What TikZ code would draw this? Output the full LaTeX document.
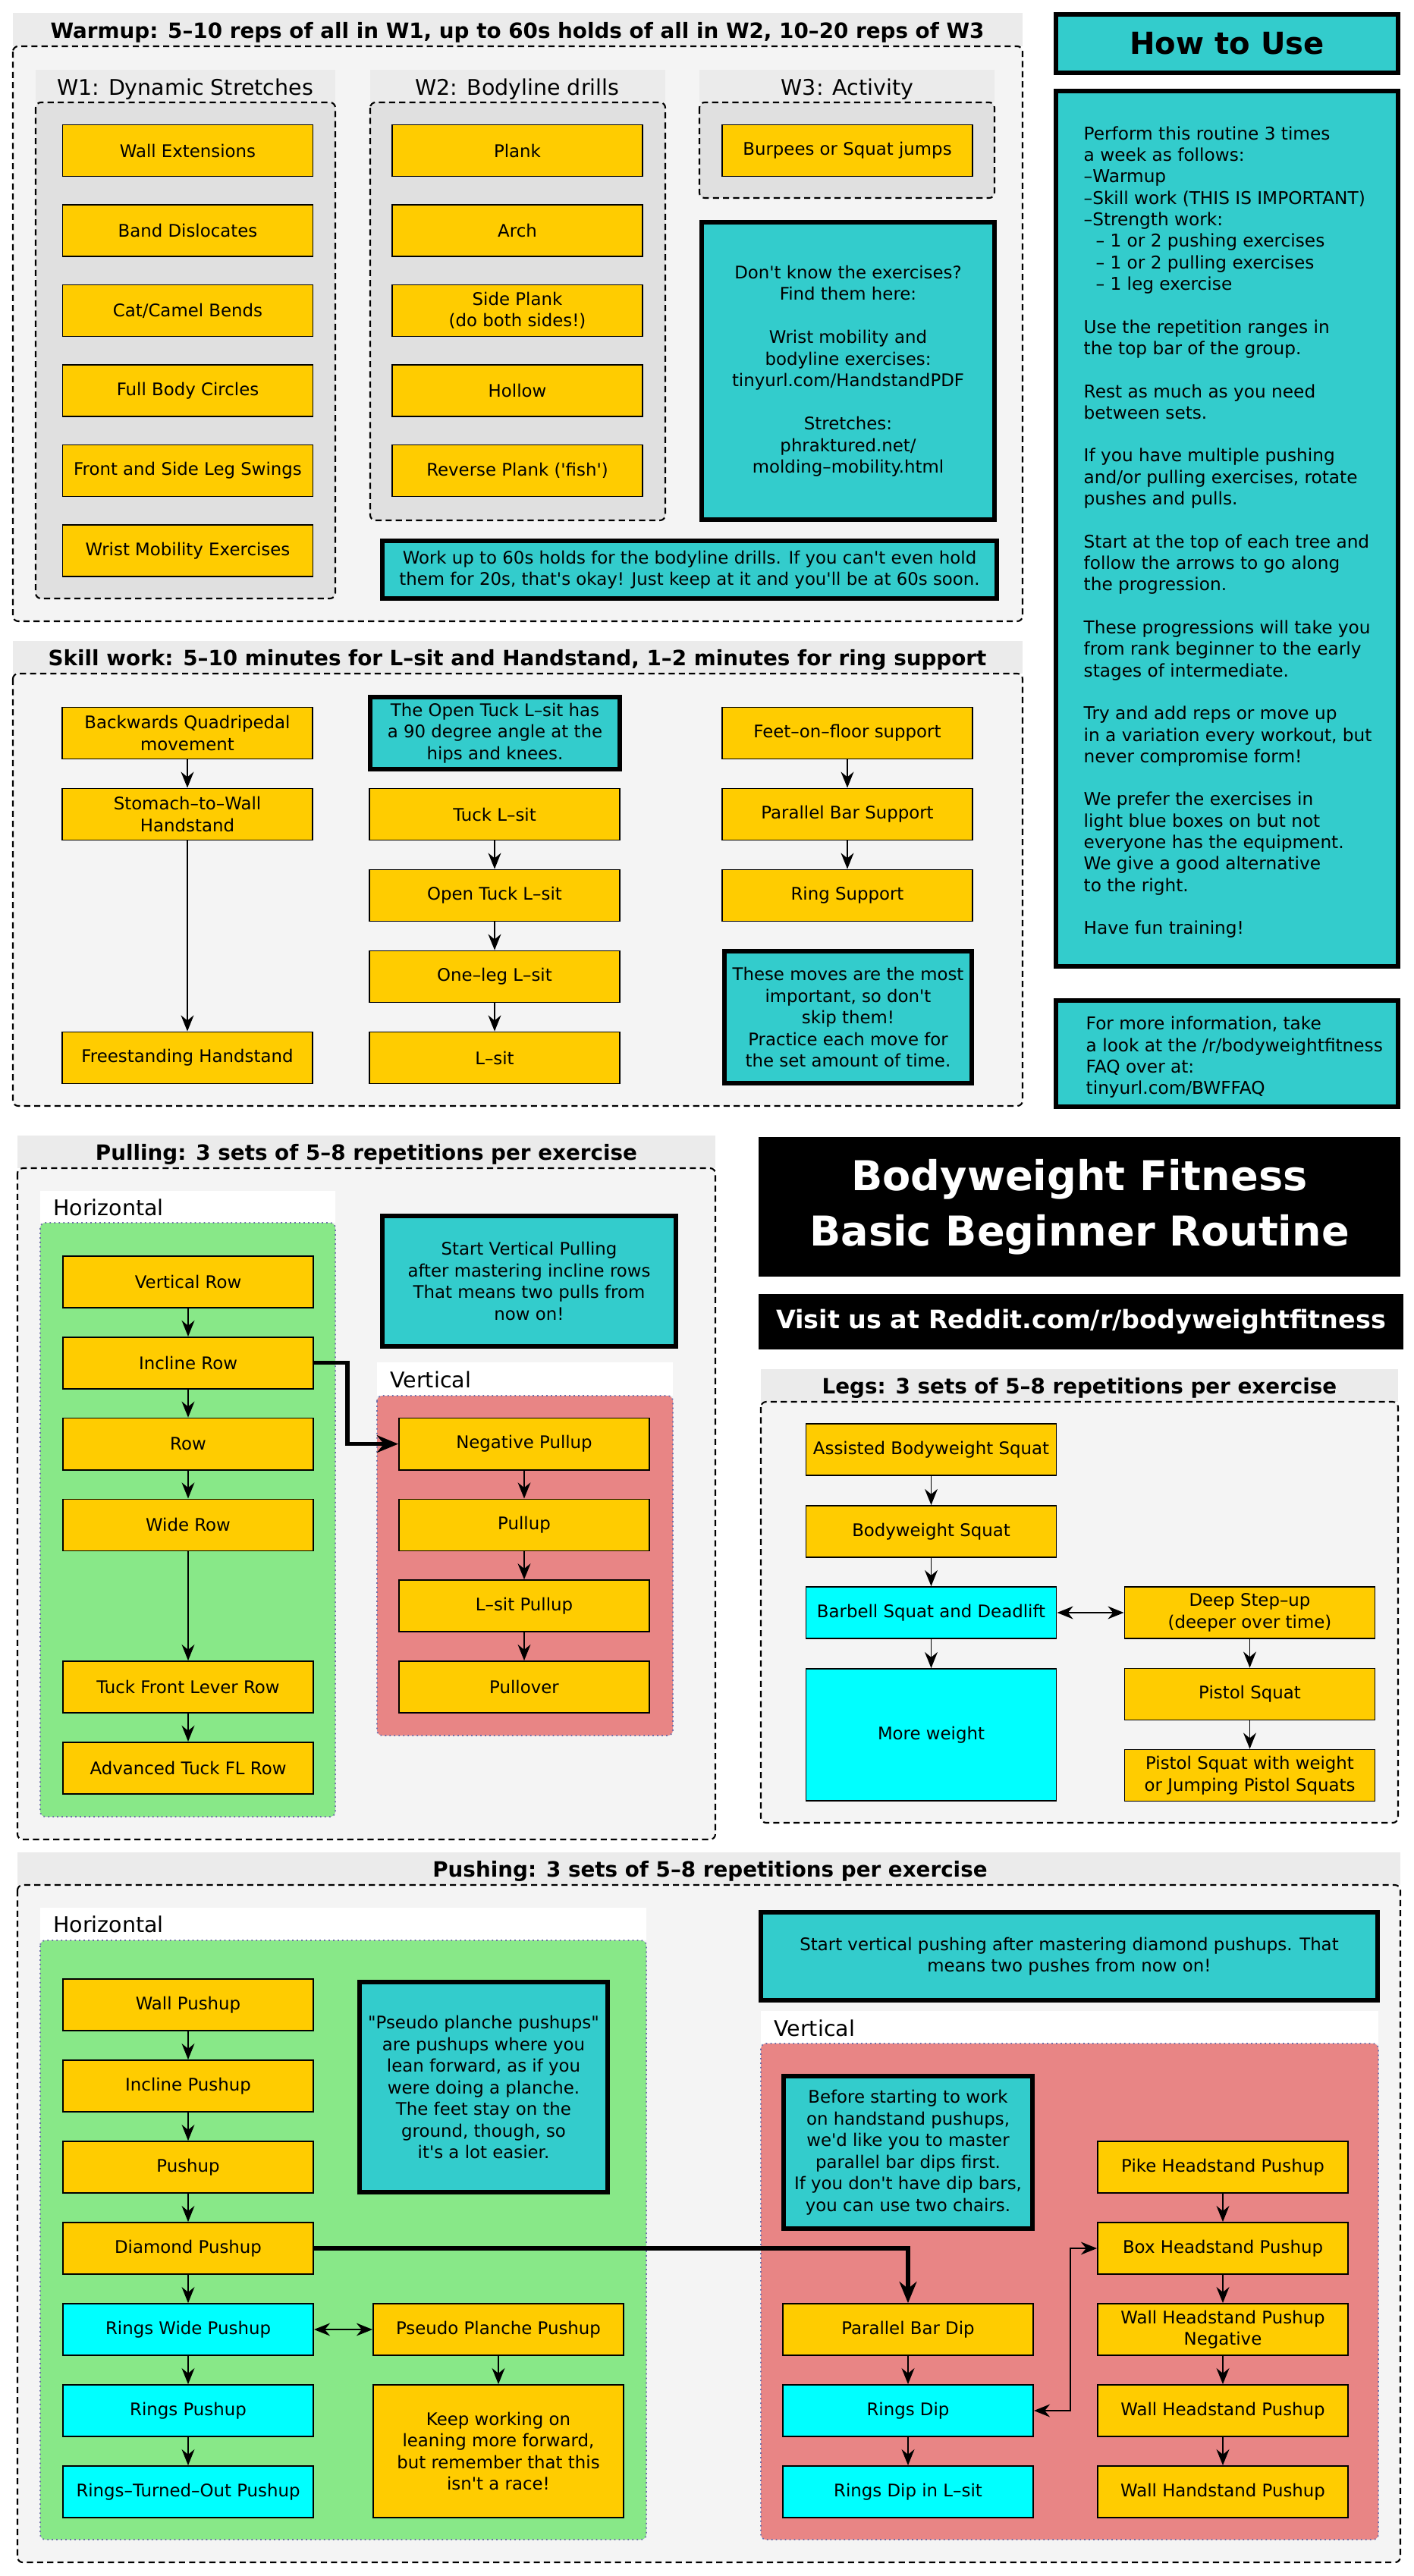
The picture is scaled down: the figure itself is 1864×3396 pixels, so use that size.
\documentclass[tikz,border=0pt]{standalone}
\usepackage{fontspec}
\newfontfamily\bwffont{DejaVu Sans}
\usetikzlibrary{arrows.meta}

\definecolor{exyellow}{HTML}{FFCC00}
\definecolor{noteteal}{HTML}{33CCCC}
\definecolor{ringcyan}{HTML}{00FFFF}
\definecolor{horizgreen}{HTML}{88E888}
\definecolor{vertred}{HTML}{E88585}
\definecolor{groupbg}{HTML}{F4F4F4}
\definecolor{barbg}{HTML}{EBEBEB}
\definecolor{subbg}{HTML}{E0E0E0}
\definecolor{dotblue}{HTML}{6E6EAA}

\tikzset{
  exbox/.style={draw, line width=0.5pt, fill=exyellow, minimum width=3.3cm, minimum height=0.68cm,
    inner sep=0pt, align=center, font=\bwffont\fontsize{6.5}{8.1}\selectfont},
  ringsbox/.style={exbox, fill=ringcyan},
  note/.style={draw, line width=1.7pt, fill=noteteal, inner sep=0pt, align=center,
    font=\bwffont\fontsize{6.5}{8.1}\selectfont},
  howtext/.style={inner sep=0pt, align=left, font=\bwffont\fontsize{6.6}{8.05}\selectfont},
  grouplabel/.style={font=\bwffont\bfseries\fontsize{7.9}{9.5}\selectfont},
  sublabel/.style={font=\bwffont\fontsize{8.1}{9.7}\selectfont},
  groupbox/.style={draw, fill=groupbg, dash pattern=on 2.3pt off 1.5pt, line width=0.6pt, rounded corners=2pt},
  subgroup/.style={groupbox, fill=subbg},
  lane/.style={draw=dotblue, dash pattern=on 0.5pt off 1.2pt, line width=0.5pt, rounded corners=2pt},
  flow/.style={arrows={-Stealth[length=6pt,width=4.8pt]}, line width=0.5pt},
  twoway/.style={arrows={Stealth[length=6pt,width=4.8pt]-Stealth[length=6pt,width=4.8pt]}, line width=0.5pt},
  jump/.style={arrows={-Stealth[length=8pt,width=6.5pt]}, line width=1.5pt},
}

\begin{document}
\begin{tikzpicture}[x=0.01cm,y=-0.01cm]
\useasboundingbox (0,0) rectangle (1864,3396);

\fill[barbg] (17,17) rectangle (1348,61);
\node[grouplabel, anchor=base] (warmuplbl) at (682,50) {Warmup: 5–10 reps of all in W1, up to 60s holds of all in W2, 10–20 reps of W3};
\draw[groupbox] (17,61) rectangle (1348,819);
\fill[barbg] (47,92) rectangle (442,135);
\node[sublabel, anchor=base] (w1lbl) at (244,125) {W1: Dynamic Stretches};
\draw[subgroup] (47,135) rectangle (442,789);
\fill[barbg] (488,92) rectangle (877,135);
\node[sublabel, anchor=base] (w2lbl) at (682,125) {W2: Bodyline drills};
\draw[subgroup] (488,135) rectangle (877,686);
\fill[barbg] (922,92) rectangle (1311,135);
\node[sublabel, anchor=base] (w3lbl) at (1117,125) {W3: Activity};
\draw[subgroup] (922,135) rectangle (1311,261);

\node[exbox] (wallext) at (247.5,198.5) {Wall Extensions};
\node[exbox] (banddis) at (247.5,304) {Band Dislocates};
\node[exbox] (catcamel) at (247.5,409.5) {Cat/Camel Bends};
\node[exbox] (bodycirc) at (247.5,515) {Full Body Circles};
\node[exbox] (legswing) at (247.5,620.5) {Front and Side Leg Swings};
\node[exbox] (wristmob) at (247.5,726) {Wrist Mobility Exercises};
\node[exbox] (plank) at (682,198.5) {Plank};
\node[exbox] (arch) at (682,304) {Arch};
\node[exbox] (sideplank) at (682,409.5) {Side Plank\\(do both sides!)};
\node[exbox] (hollow) at (682,515) {Hollow};
\node[exbox] (revplank) at (682,620.5) {Reverse Plank ('fish')};
\node[exbox] (burpees) at (1117,198.5) {Burpees or Squat jumps};
\node[note, minimum width=3.86cm, minimum height=3.92cm] (findthem) at (1118,489) {Don't know the exercises?\\Find them here:\\[8.1pt]Wrist mobility and\\bodyline exercises:\\tinyurl.com/HandstandPDF\\[8.1pt]Stretches:\\phraktured.net/\\molding–mobility.html};
\node[note, minimum width=8.1cm, minimum height=0.76cm] (holdnote) at (909,751) {Work up to 60s holds for the bodyline drills. If you can't even hold\\them for 20s, that's okay! Just keep at it and you'll be at 60s soon.};

\fill[barbg] (17,845) rectangle (1348,888);
\node[grouplabel, anchor=base] (skilllbl) at (682,877) {Skill work: 5–10 minutes for L–sit and Handstand, 1–2 minutes for ring support};
\draw[groupbox] (17,888) rectangle (1348,1458);
\node[exbox] (backquad) at (247,966.5) {Backwards Quadripedal\\movement};
\node[exbox] (stomachwall) at (247,1073.5) {Stomach–to–Wall\\Handstand};
\node[exbox] (freehs) at (247,1394.5) {Freestanding Handstand};
\node[note, minimum width=3.29cm, minimum height=0.95cm] (opentucknote) at (652.5,966.5) {The Open Tuck L–sit has\\a 90 degree angle at the\\hips and knees.};
\node[exbox] (tucklsit) at (652,1073.5) {Tuck L–sit};
\node[exbox] (opentuck) at (652,1180.5) {Open Tuck L–sit};
\node[exbox] (oneleg) at (652,1287.5) {One–leg L–sit};
\node[exbox] (lsit) at (652,1394.5) {L–sit};
\node[exbox] (feetfloor) at (1117,966.5) {Feet–on–floor support};
\node[exbox] (pbsupport) at (1117,1073.5) {Parallel Bar Support};
\node[exbox] (ringsupport) at (1117,1180.5) {Ring Support};
\node[note, minimum width=3.26cm, minimum height=1.74cm] (skipnote) at (1118,1341) {These moves are the most\\important, so don't\\skip them!\\Practice each move for\\the set amount of time.};
\draw[flow] (backquad) -- (stomachwall);
\draw[flow] (stomachwall) -- (freehs);
\draw[flow] (tucklsit) -- (opentuck);
\draw[flow] (opentuck) -- (oneleg);
\draw[flow] (oneleg) -- (lsit);
\draw[flow] (feetfloor) -- (pbsupport);
\draw[flow] (pbsupport) -- (ringsupport);

\fill[barbg] (23,1497) rectangle (943,1540);
\node[grouplabel, anchor=base] (pulllbl) at (483,1529) {Pulling: 3 sets of 5–8 repetitions per exercise};
\draw[groupbox] (23,1540) rectangle (943,2425);
\fill[white] (53,1570) rectangle (442,1612);
\node[sublabel, anchor=base west] (pullhlbl) at (58,1602) {Horizontal};
\filldraw[lane, fill=horizgreen] (53,1612) rectangle (442,2395);
\node[exbox] (vertrow) at (248,1690) {Vertical Row};
\node[exbox] (inclrow) at (248,1796.8) {Incline Row};
\node[exbox] (row) at (248,1903.6) {Row};
\node[exbox] (widerow) at (248,2010.4) {Wide Row};
\node[exbox] (tuckflrow) at (248,2224) {Tuck Front Lever Row};
\node[exbox] (advtuckfl) at (248,2330.8) {Advanced Tuck FL Row};
\node[note, minimum width=3.87cm, minimum height=1.72cm] (vpullnote) at (697.5,1689) {Start Vertical Pulling\\after mastering incline rows\\That means two pulls from\\now on!};
\fill[white] (497,1796) rectangle (887,1840);
\node[sublabel, anchor=base west] (pullvlbl) at (502,1829) {Vertical};
\filldraw[lane, fill=vertred] (497,1840) rectangle (887,2288);
\node[exbox] (negpull) at (691,1903.6) {Negative Pullup};
\node[exbox] (pullup) at (691,2010.4) {Pullup};
\node[exbox] (lsitpull) at (691,2117.2) {L–sit Pullup};
\node[exbox] (pullover) at (691,2224) {Pullover};
\draw[flow] (vertrow) -- (inclrow);
\draw[flow] (inclrow) -- (row);
\draw[flow] (row) -- (widerow);
\draw[flow] (widerow) -- (tuckflrow);
\draw[flow] (tuckflrow) -- (advtuckfl);
\draw[flow] (negpull) -- (pullup);
\draw[flow] (pullup) -- (lsitpull);
\draw[flow] (lsitpull) -- (pullover);
\draw[jump] (inclrow.east) -- ++(44,0) |- (negpull.west);

\node[fill=black, minimum width=8.46cm, minimum height=1.84cm, text=white, align=center,
  font=\bwffont\bfseries\fontsize{15.4}{20.8}\selectfont] (banner) at (1423,1591) {Bodyweight Fitness\\Basic Beginner Routine};
\node[fill=black, minimum width=8.5cm, minimum height=0.73cm, text=white,
  font=\bwffont\bfseries\fontsize{9.5}{11}\selectfont] (visit) at (1425,1742.5) {Visit us at Reddit.com/r/bodyweightfitness};

\fill[barbg] (1003,1805) rectangle (1843,1848);
\node[grouplabel, anchor=base] (legslbl) at (1423,1837) {Legs: 3 sets of 5–8 repetitions per exercise};
\draw[groupbox] (1003,1848) rectangle (1843,2403);
\node[exbox] (assquat) at (1227.5,1911) {Assisted Bodyweight Squat};
\node[exbox] (bwsquat) at (1227.5,2019) {Bodyweight Squat};
\node[ringsbox] (barbell) at (1227.5,2126) {Barbell Squat and Deadlift};
\node[ringsbox, minimum height=1.74cm] (moreweight) at (1227.5,2287) {More weight};
\node[exbox] (stepup) at (1647.5,2126) {Deep Step–up\\(deeper over time)};
\node[exbox] (pistol) at (1647.5,2233.5) {Pistol Squat};
\node[exbox] (pistolw) at (1647.5,2340.5) {Pistol Squat with weight\\or Jumping Pistol Squats};
\draw[flow] (assquat) -- (bwsquat);
\draw[flow] (bwsquat) -- (barbell);
\draw[flow] (barbell) -- (moreweight);
\draw[twoway] (barbell) -- (stepup);
\draw[flow] (stepup) -- (pistol);
\draw[flow] (pistol) -- (pistolw);

\node[note, minimum width=4.51cm, minimum height=0.77cm, font=\bwffont\bfseries\fontsize{11.4}{13}\selectfont] (howtitle) at (1617.5,57.5) {How to Use};
\node[note, minimum width=4.51cm, minimum height=11.54cm] (howto) at (1617.5,697) {};
\node[howtext, anchor=north west] (howtotext) at (1428,166) {Perform this routine 3 times\\
a week as follows:\\
–Warmup\\
–Skill work (THIS IS IMPORTANT)\\
–Strength work:\\
\hspace*{4.5pt}– 1 or 2 pushing exercises\\
\hspace*{4.5pt}– 1 or 2 pulling exercises\\
\hspace*{4.5pt}– 1 leg exercise\\[8.05pt]
Use the repetition ranges in\\
the top bar of the group.\\[8.05pt]
Rest as much as you need\\
between sets.\\[8.05pt]
If you have multiple pushing\\
and/or pulling exercises, rotate\\
pushes and pulls.\\[8.05pt]
Start at the top of each tree and\\
follow the arrows to go along\\
the progression.\\[8.05pt]
These progressions will take you\\
from rank beginner to the early\\
stages of intermediate.\\[8.05pt]
Try and add reps or move up\\
in a variation every workout, but\\
never compromise form!\\[8.05pt]
We prefer the exercises in\\
light blue boxes on but not\\
everyone has the equipment.\\
We give a good alternative\\
to the right.\\[8.05pt]
Have fun training!};
\node[note, minimum width=4.51cm, minimum height=1.40cm] (faq) at (1617.5,1389) {};
\node[howtext, anchor=north west] (faqtext) at (1431,1339.5) {For more information, take\\a look at the /r/bodyweightfitness\\FAQ over at:\\tinyurl.com/BWFFAQ};

\fill[barbg] (23,2442) rectangle (1846,2485);
\node[grouplabel, anchor=base] (pushlbl) at (936,2474) {Pushing: 3 sets of 5–8 repetitions per exercise};
\draw[groupbox] (23,2485) rectangle (1846,3378);
\fill[white] (53,2515) rectangle (852,2558);
\node[sublabel, anchor=base west] (pushhlbl) at (58,2547) {Horizontal};
\filldraw[lane, fill=horizgreen] (53,2558) rectangle (852,3348);
\node[exbox] (wallpush) at (248,2643) {Wall Pushup};
\node[exbox] (inclpush) at (248,2750) {Incline Pushup};
\node[exbox] (pushup) at (248,2857) {Pushup};
\node[exbox] (diamond) at (248,2964) {Diamond Pushup};
\node[ringsbox] (ringswide) at (248,3071) {Rings Wide Pushup};
\node[ringsbox] (ringspush) at (248,3178) {Rings Pushup};
\node[ringsbox] (ringsout) at (248,3285) {Rings–Turned–Out Pushup};
\node[note, minimum width=3.27cm, minimum height=2.77cm] (pseudonote) at (637.5,2751.5) {"Pseudo planche pushups"\\are pushups where you\\lean forward, as if you\\were doing a planche.\\The feet stay on the\\ground, though, so\\it's a lot easier.};
\node[exbox] (pseudopp) at (657,3071) {Pseudo Planche Pushup};
\node[exbox, minimum height=1.75cm] (keepwork) at (657,3231.5) {Keep working on\\leaning more forward,\\but remember that this\\isn't a race!};
\node[note, minimum width=8.13cm, minimum height=1.16cm] (vpushnote) at (1409.5,2579) {Start vertical pushing after mastering diamond pushups. That\\means two pushes from now on!};
\fill[white] (1003,2651) rectangle (1817,2694);
\node[sublabel, anchor=base west] (pushvlbl) at (1008,2684) {Vertical};
\filldraw[lane, fill=vertred] (1003,2694) rectangle (1817,3348);
\node[note, minimum width=3.28cm, minimum height=2.01cm] (dipsnote) at (1197,2837.5) {Before starting to work\\on handstand pushups,\\we'd like you to master\\parallel bar dips first.\\If you don't have dip bars,\\you can use two chairs.};
\node[exbox] (pbdip) at (1197,3071) {Parallel Bar Dip};
\node[ringsbox] (ringsdip) at (1197,3178) {Rings Dip};
\node[ringsbox] (ringsdipl) at (1197,3285) {Rings Dip in L–sit};
\node[exbox] (pikehs) at (1612,2857) {Pike Headstand Pushup};
\node[exbox] (boxhs) at (1612,2964) {Box Headstand Pushup};
\node[exbox] (wallhsneg) at (1612,3071) {Wall Headstand Pushup\\Negative};
\node[exbox] (wallhs) at (1612,3178) {Wall Headstand Pushup};
\node[exbox] (wallhandhs) at (1612,3285) {Wall Handstand Pushup};
\draw[flow] (wallpush) -- (inclpush);
\draw[flow] (inclpush) -- (pushup);
\draw[flow] (pushup) -- (diamond);
\draw[flow] (diamond) -- (ringswide);
\draw[flow] (ringswide) -- (ringspush);
\draw[flow] (ringspush) -- (ringsout);
\draw[twoway] (ringswide) -- (pseudopp);
\draw[flow] (pseudopp) -- (keepwork);
\draw[jump] (diamond.east) -| (pbdip.north);
\draw[flow] (pbdip) -- (ringsdip);
\draw[flow] (ringsdip) -- (ringsdipl);
\draw[flow] (pikehs) -- (boxhs);
\draw[flow] (boxhs) -- (wallhsneg);
\draw[flow] (wallhsneg) -- (wallhs);
\draw[flow] (wallhs) -- (wallhandhs);
\draw[twoway] (ringsdip.east) -- ++(48,0) |- (boxhs.west);
\end{tikzpicture}
\end{document}
